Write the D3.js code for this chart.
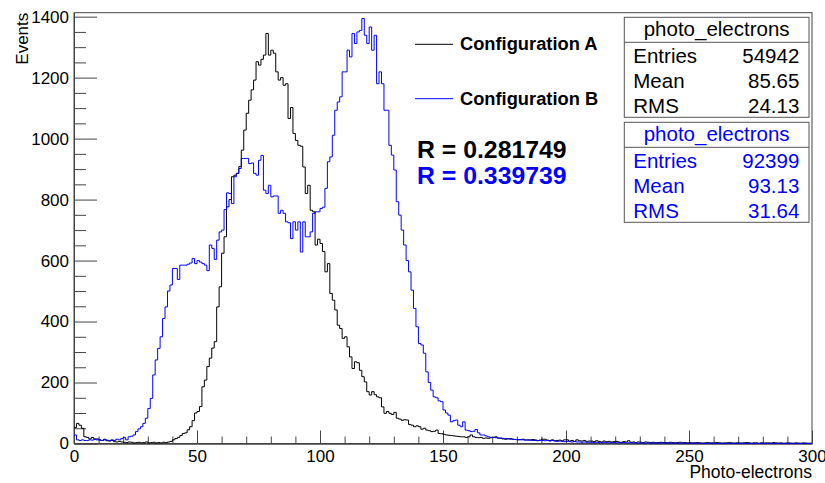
<!DOCTYPE html>
<html>
<head>
<meta charset="utf-8">
<script src="https://cdn.jsdelivr.net/npm/d3@7"></script>
<style>
  body { margin: 0; background: #fff; }
  svg { display: block; font-family: "Liberation Sans", Arial, sans-serif; }
</style>
</head>
<body>
<script>
//DATA - 300 BINS OF WIDTH 1, 0..300 PHOTO-ELECTRONS
const binEdges = [0, 300]
const xTicks = [0, 50, 100, 150, 200, 250, 300]
const yTicks = [0, 200, 400, 600, 800, 1000, 1200, 1400]

const configA = [
  52,66,60,50,22,20,15,20,15,15,
  12,10,14,9,8,10,6,5,7,5,
  4,3,5,4,2,3,4,2,3,5,
  2,3,4,2,3,2,4,3,5,7,
  12,16,20,26,33,35,45,55,75,100,
  105,121,186,208,252,280,313,334,448,514,
  624,678,776,800,875,880,886,908,962,1028,
  1083,1126,1160,1192,1252,1241,1260,1274,1345,1274,
  1290,1280,1219,1192,1200,1175,1180,1066,1102,1017,
  994,978,975,907,820,847,765,760,651,670,
  656,630,563,590,492,470,438,388,377,345,
  350,317,284,246,268,265,240,219,202,170,
  159,170,160,153,150,120,99,105,99,95,
  102,83,80,76,78,77,62,60,55,58,
  55,47,50,44,42,39,40,44,33,32,
  30,28,27,26,25,24,23,22,22,20,
  22,28,22,20,19,20,17,18,17,19,
  20,22,18,17,15,14,16,16,14,13,
  12,13,14,12,12,11,13,12,10,11,
  14,14,11,10,12,9,10,11,9,12,
  12,8,10,7,12,9,8,10,7,8,
  8,6,9,7,5,8,6,7,5,6,
  7,5,4,6,5,9,4,5,3,5,
  4,3,5,4,3,4,2,3,4,3,
  3,2,4,3,2,3,4,2,3,2,
  3,2,2,3,2,1,2,3,2,2,
  2,3,2,1,2,2,3,2,1,2,
  2,1,2,3,2,1,2,2,1,2,
  1,2,2,1,3,2,1,2,1,1,
  2,1,1,2,1,1,2,1,1,1
]

const configB = [
  28,12,10,12,10,10,12,11,13,12,
  11,10,12,11,10,12,10,14,12,16,
  20,12,22,24,28,39,48,55,66,83,
  115,148,225,274,312,350,410,448,500,520,
  574,574,538,585,585,585,588,592,607,590,
  600,595,590,585,567,651,640,604,667,694,
  700,767,822,820,787,875,886,902,935,935,
  935,918,920,886,880,929,945,831,820,847,
  809,812,812,755,765,755,727,724,672,727,
  700,727,628,727,678,678,694,755,760,760,
  771,775,837,924,940,1011,1093,1120,1137,1219,
  1219,1290,1268,1345,1312,1350,1355,1394,1339,1312,
  1366,1290,1339,1180,1219,1180,1093,1093,978,946,
  897,793,749,700,651,600,563,503,443,383,
  328,323,296,235,200,175,153,150,140,137,
  110,100,93,71,75,77,60,55,71,44,
  42,39,40,46,35,28,28,25,22,20,
  20,19,18,18,17,16,15,14,14,13,
  13,12,12,11,11,12,10,10,9,10,
  10,9,10,8,10,8,7,8,7,6,
  7,6,5,6,5,5,4,5,4,4,
  4,3,4,3,3,4,3,2,3,3,
  2,3,2,3,2,2,3,2,2,1,
  2,2,1,2,2,1,2,1,2,2,
  1,2,1,1,2,1,1,2,1,1,
  1,1,2,1,1,1,0,1,1,1,
  1,0,1,1,0,1,1,0,1,1,
  0,1,1,0,1,0,1,1,0,1,
  1,0,0,1,1,0,1,0,0,1,
  0,1,0,0,1,0,0,1,0,0
]

const legendLabels = ["Configuration A", "Configuration B"]
const rValues = ["R = 0.281749", "R = 0.339739"]
const statsTitle = "photo_electrons"
const statsA = [["Entries", "54942"], ["Mean", "85.65"], ["RMS", "24.13"]]
const statsB = [["Entries", "92399"], ["Mean", "93.13"], ["RMS", "31.64"]]
const colors = ["#000000", "#0000ff"]

//LAYOUT
const svgwidth = 825
const svgheight = 483
const frame = { left: 74, right: 812, top: 12.7, bottom: 443.5 }

const svg = d3.select("body").append("svg")
  .attr("width", svgwidth)
  .attr("height", svgheight)

//SCALES
const X = d3.scaleLinear().domain(binEdges).range([frame.left, frame.right])
const Y = d3.scaleLinear().domain([0, 1413]).range([frame.bottom, frame.top])

//FRAME
svg.append("rect")
  .attr("x", frame.left).attr("y", frame.top)
  .attr("width", frame.right - frame.left)
  .attr("height", frame.bottom - frame.top)
  .attr("fill", "none").attr("stroke", "#444").attr("stroke-width", 1)

//AXES (ROOT STYLE, TICKS POINTING INWARD)
const fontSize = 17

const xMinor = d3.range(0, 301, 10).filter(d => d % 50 !== 0)
svg.append("g").attr("transform", `translate(0, ${frame.bottom})`)
  .call(d3.axisBottom(X).tickValues(xMinor).tickFormat("").tickSizeInner(-7).tickSizeOuter(0))
svg.append("g").attr("id", "xaxis").attr("transform", `translate(0, ${frame.bottom})`)
  .call(d3.axisBottom(X).tickValues(xTicks).tickFormat(d3.format("d")).tickSizeInner(-13).tickSizeOuter(0).tickPadding(6.5))

const yMinor = d3.range(0, 1401, 50).filter(d => d % 200 !== 0)
svg.append("g").attr("transform", `translate(${frame.left}, 0)`)
  .call(d3.axisLeft(Y).tickValues(yMinor).tickFormat("").tickSizeInner(-12).tickSizeOuter(0))
svg.append("g").attr("id", "yaxis").attr("transform", `translate(${frame.left}, 0)`)
  .call(d3.axisLeft(Y).tickValues(yTicks).tickFormat(d3.format("d")).tickSizeInner(-23).tickSizeOuter(0).tickPadding(5))

svg.selectAll(".tick line").attr("stroke", "#444")
svg.selectAll(".domain").attr("stroke", "#444")
svg.selectAll(".tick text")
  .attr("fill", "#000")
  .style("font-size", fontSize + "px")
  .style("font-family", "'Liberation Sans', Arial, sans-serif")

//AXIS TITLES
svg.append("text")
  .attr("transform", `translate(28, ${frame.top}) rotate(-90)`)
  .attr("text-anchor", "end")
  .style("font-size", fontSize + "px")
  .text("Events")

svg.append("text")
  .attr("x", frame.right).attr("y", 478)
  .attr("text-anchor", "end")
  .style("font-size", "17.5px")
  .text("Photo-electrons")

//HISTOGRAMS
const stepLine = d3.line()
  .x(d => X(d[0]))
  .y(d => Y(d[1]))
  .curve(d3.curveStepAfter)

const toPoints = vals => vals.map((v, i) => [i, v]).concat([[vals.length, vals[vals.length - 1]]])

svg.append("path")
  .datum(toPoints(configA))
  .attr("d", stepLine)
  .attr("fill", "none").attr("stroke", colors[0]).attr("stroke-width", 1)

svg.append("path")
  .datum(toPoints(configB))
  .attr("d", stepLine)
  .attr("fill", "none").attr("stroke", colors[1]).attr("stroke-width", 1)

//LEGEND
const legendY = [44.3, 98.7]
const legend = svg.append("g")
legend.selectAll("line").data(legendLabels).enter().append("line")
  .attr("x1", 415).attr("x2", 453)
  .attr("y1", (d, i) => legendY[i]).attr("y2", (d, i) => legendY[i])
  .attr("stroke", (d, i) => colors[i]).attr("stroke-width", 1)
legend.selectAll("text").data(legendLabels).enter().append("text")
  .attr("x", 460).attr("y", (d, i) => legendY[i] + 6)
  .style("font-size", "18.3px").style("font-weight", "bold")
  .attr("fill", "#000")
  .text(d => d)

//R VALUES
svg.selectAll(".rval").data(rValues).enter().append("text").classed("rval", true)
  .attr("x", 417).attr("y", (d, i) => [158.3, 183.5][i])
  .style("font-size", "24.8px").style("font-weight", "bold")
  .attr("fill", (d, i) => colors[i])
  .text(d => d)

//STATS BOXES
const drawStats = (rows, top, color) => {
  const g = svg.append("g")
  const boxL = 624.3, boxR = 809, rowH = 25
  g.append("rect")
    .attr("x", boxL).attr("y", top)
    .attr("width", boxR - boxL).attr("height", 100)
    .attr("fill", "#fff").attr("stroke", "#555").attr("stroke-width", 1)
  g.append("line")
    .attr("x1", boxL).attr("x2", boxR)
    .attr("y1", top + 25).attr("y2", top + 25)
    .attr("stroke", "#555").attr("stroke-width", 1)
  g.append("text")
    .attr("x", (boxL + boxR) / 2).attr("y", top + 18.7)
    .attr("text-anchor", "middle")
    .style("font-size", "20.5px").attr("fill", color)
    .text(statsTitle)
  rows.forEach((r, i) => {
    g.append("text")
      .attr("x", 633.3).attr("y", top + 45.3 + i * rowH)
      .style("font-size", "20.5px").attr("fill", color)
      .text(r[0])
    g.append("text")
      .attr("x", 799.3).attr("y", top + 45.3 + i * rowH)
      .attr("text-anchor", "end")
      .style("font-size", "20.5px").attr("fill", color)
      .text(r[1])
  })
}
drawStats(statsA, 17.3, colors[0])
drawStats(statsB, 122.3, colors[1])
</script>
</body>
</html>
